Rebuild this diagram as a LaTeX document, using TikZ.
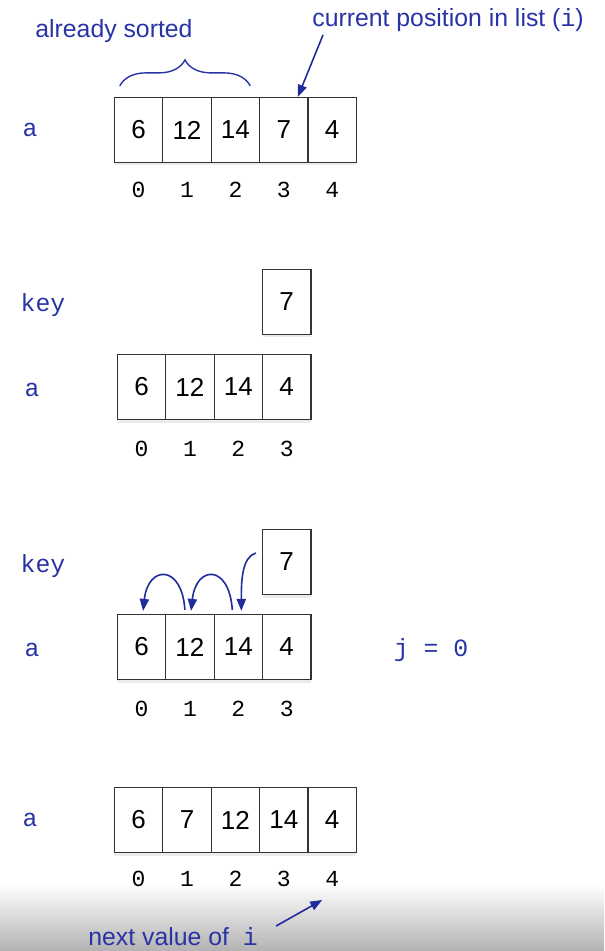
\documentclass[tikz,border=0pt]{standalone}
\usepackage{fontspec}
\setmainfont{Liberation Sans}
\setmonofont{Liberation Mono}
\usepackage{tikz}
\usetikzlibrary{shadows, positioning, calc, arrows.meta, decorations.pathreplacing}

\begin{document}
\begin{tikzpicture}[x=0.5pt, y=-0.5pt,
  celula/.style={draw=black!80, fill=white, line width=0.6pt, minimum width=24.2pt, minimum height=32.5pt, inner sep=0pt, font=\fontsize{13}{13}\selectfont, drop shadow={opacity=0.15, shadow xshift=0pt, shadow yshift=-1.5pt}},
  indice/.style={font=\ttfamily\fontsize{11.5}{11.5}\selectfont},
  rotulo/.style={text=azul, font=\ttfamily\fontsize{12.4}{12.4}\selectfont},
  nota/.style={text=azul, inner sep=0pt, font=\fontsize{12.4}{12.4}\selectfont},
  seta/.style={draw=azulseta, line width=0.8pt, -{Triangle[length=6pt, width=4.6pt]}}]
% --- INSERTION SORT: UM PASSO ---
\definecolor{azul}{RGB}{40,52,165}
\definecolor{azulseta}{RGB}{32,44,155}
\useasboundingbox (0,0) rectangle (604,951);

% FUNDO: sombra cinza embaixo
\shade[top color=white, bottom color=black!30] (0,884) rectangle (604,951);

% LAYER 1: Lista inicial
\node[nota, anchor=west] (ordenado) at (35,31) {already sorted};
\node[nota, anchor=west] (atual) at (312,20) {current position in list ({\ttfamily i})};
\node[rotulo] (a1) at (30,130) {a};
\foreach \v [count=\k from 0] in {6,12,14,7,4} {
  \node[celula] (p\k) at (138.6+48.4*\k,130) {\v};
  \node[indice] (ip\k) at (138.6+48.4*\k,190) {\k};
}
\draw[azul, line width=0.7pt, decorate, decoration={brace, amplitude=13pt}] ($(p0.north west)+(6,-11)$) -- ($(p2.north east)+(-10,-11)$);
\draw[seta] ($(atual.west)+(11,15)$) -- ([xshift=7pt]p3.north);

% LAYER 2: Chave retirada
\node[rotulo] (chave1) at (43,305) {key};
\node[rotulo] (a2) at (32,390) {a};
\foreach \v [count=\k from 0] in {6,12,14,4} {
  \node[celula] (q\k) at (141.5+48.4*\k,387) {\v};
  \node[indice] (iq\k) at (141.5+48.4*\k,449) {\k};
}
\node[celula] (k1) at (286.7,302) {7};

% LAYER 3: Deslocamentos
\node[rotulo] (chave2) at (43,566) {key};
\node[rotulo] (a3) at (32,650) {a};
\foreach \v [count=\k from 0] in {6,12,14,4} {
  \node[celula] (s\k) at (141.5+48.4*\k,647) {\v};
  \node[indice] (is\k) at (141.5+48.4*\k,709) {\k};
}
\node[celula] (k2) at (286.7,562) {7};
\node[rotulo] (jval) at (431,650) {j = 0};
\draw[seta] ([xshift=-2.5pt, yshift=2pt]s1.north) .. controls +(-3,-46) and +(5,-46) .. ([xshift=0.8pt, yshift=1.5pt]s0.north);
\draw[seta] ([xshift=-3pt, yshift=2pt]s2.north) .. controls +(-3,-46) and +(5,-46) .. ([xshift=0.6pt, yshift=1.5pt]s1.north);
\draw[seta] ([xshift=-3pt, yshift=4.5pt]k2.west) .. controls +(-14,4) and +(0,-30) .. ([xshift=1.5pt, yshift=1.5pt]s2.north);

% LAYER 4: Lista depois da insercao
\node[rotulo] (a4) at (30,820) {a};
\foreach \v [count=\k from 0] in {6,7,12,14,4} {
  \node[celula] (r\k) at (138.6+48.4*\k,820) {\v};
  \node[indice] (ir\k) at (138.6+48.4*\k,879) {\k};
}
\node[nota, anchor=west] (prox) at (88,937) {next value of~ {\ttfamily i}};
\draw[seta] ($(prox.east)+(18,-11)$) -- ($(ir4.center)+(-10,21)$);
\end{tikzpicture}
\end{document}
